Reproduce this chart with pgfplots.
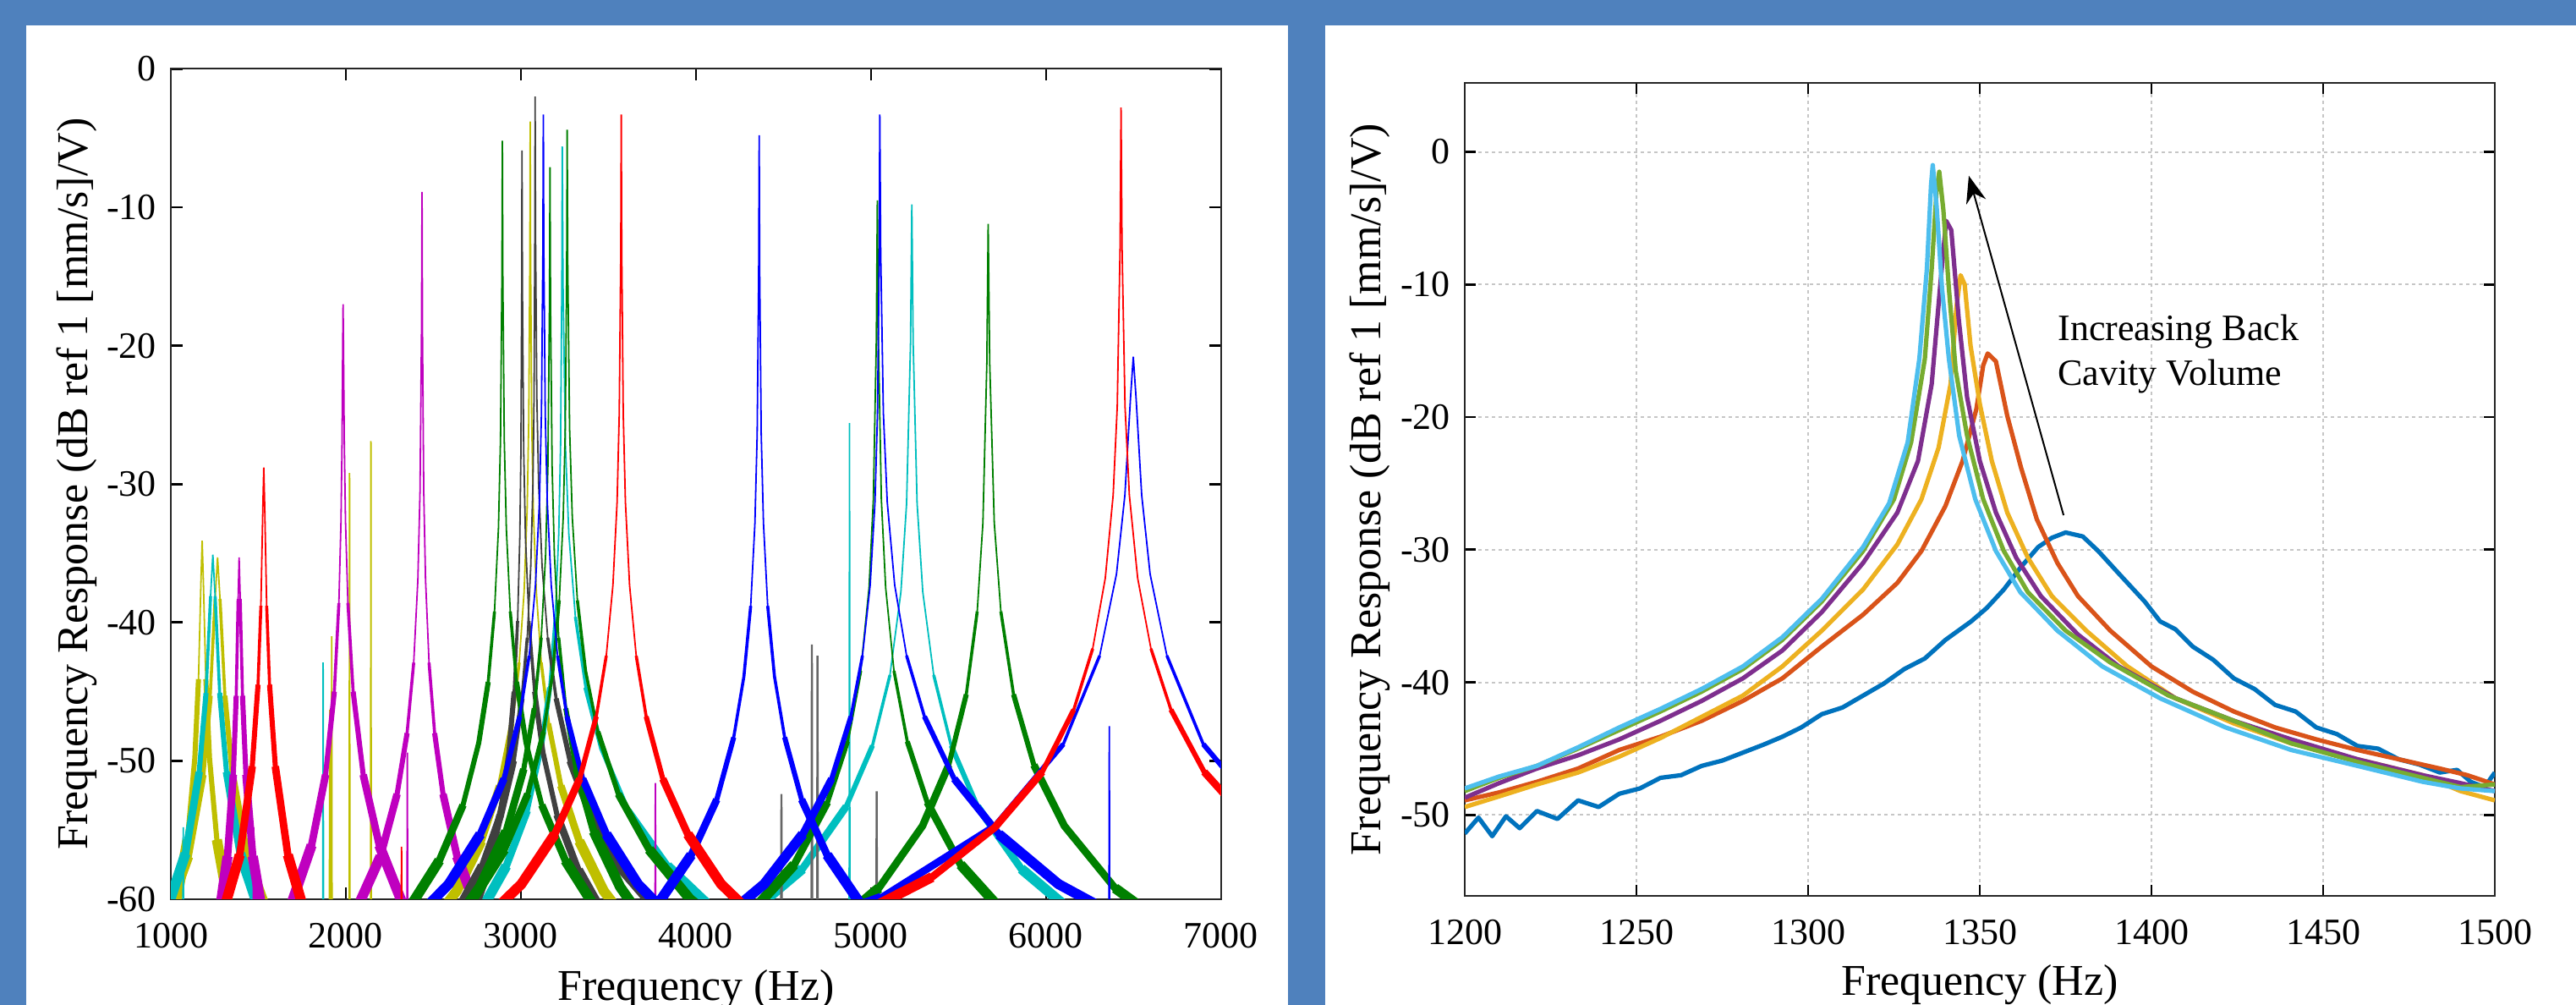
\documentclass[border=0pt]{standalone}
\usepackage{fontspec}
\setmainfont{Liberation Serif}
\usepackage{pgfplots}
\pgfplotsset{compat=1.18}
\usetikzlibrary{calc,arrows.meta}
\definecolor{bg}{HTML}{4F81BD}
\definecolor{cB}{rgb}{0,0,1}
\definecolor{cG}{rgb}{0,0.5,0}
\definecolor{cR}{rgb}{1,0,0}
\definecolor{cC}{rgb}{0,0.75,0.75}
\definecolor{cM}{rgb}{0.75,0,0.75}
\definecolor{cY}{rgb}{0.75,0.75,0}
\definecolor{cK}{rgb}{0.25,0.25,0.25}
\definecolor{mblue}{HTML}{0072BD}
\definecolor{morange}{HTML}{D95319}
\definecolor{myellow}{HTML}{EDB120}
\definecolor{mpurple}{HTML}{7E2F8E}
\definecolor{mgreen}{HTML}{77AC30}
\definecolor{mcyan}{HTML}{4DBEEE}
\newcommand{\tickfont}{\fontsize{11}{13}\selectfont}
\newcommand{\labfont}{\fontsize{13}{15}\selectfont}
\newcommand{\peak}[2]{%
  \addplot[#1, line width=0.45pt] coordinates {#2};%
  \addplot[#1, line width=0.9pt, restrict y to domain=-100:-38] coordinates {#2};%
  \addplot[#1, line width=1.5pt, restrict y to domain=-100:-44] coordinates {#2};%
  \addplot[#1, line width=2.2pt, restrict y to domain=-100:-50] coordinates {#2};%
  \addplot[#1, line width=3.0pt, restrict y to domain=-100:-55] coordinates {#2};}
\pgfplotsset{common/.style={scale only axis, anchor=south west, tick align=inside,
  axis line style={line width=0.5pt, black!85},
  every tick/.style={line width=0.7pt, black},
  ticklabel style={font=\tickfont},
  /pgf/number format/assume math mode=true, /pgf/number format/1000 sep={},
  unbounded coords=jump,
  xticklabel style={yshift=-3.5pt}, yticklabel style={xshift=-0.75pt}}}
\begin{document}
\begin{tikzpicture}
\fill[bg] (0pt,0pt) rectangle (761.5pt,297pt);
\fill[white] (7.75pt,0pt) rectangle (380.75pt,289.5pt);
\fill[white] (391.75pt,0pt) rectangle (761.5pt,289.5pt);
% ---------------- left axis ----------------
\begin{axis}[common, name=L, at={(50.5pt,31.25pt)}, width=310.5pt, height=245.4pt,
  xmin=1000, xmax=7000, ymin=-60, ymax=0,
  xtick={1000,2000,...,7000}, ytick={-60,-50,...,0}, major tick length=3.5pt]
% olive
\peak{cY}{(1004,-62.1) (1095,-55.7) (1137,-49.8) (1158,-44.1) (1172,-37.1) (1179,-34.1) (1186,-37.1) (1200,-44.1) (1221,-49.8) (1263,-55.7) (1354,-62.1)}
\peak{cY}{(917,-63.3) (1099,-56.9) (1183,-51.0) (1225,-45.3) (1253,-38.3) (1267,-35.3) (1281,-38.3) (1309,-45.3) (1351,-51.0) (1435,-56.9) (1617,-63.3)}
\peak{cY}{(2423,-62.9) (2633,-59.4) (2773,-55.8) (2878,-51.8) (2948,-47.3) (2990,-42.9) (3018,-37.8) (3035.5,-31.8) (3044.6,-25.4) (3050.9,-13.8) (3053,-3.8) (3055.1,-13.8) (3061.4,-25.4) (3070.5,-31.8) (3088,-37.8) (3116,-42.9) (3158,-47.3) (3228,-51.8) (3333,-55.8) (3473,-59.4) (3683,-62.9)}
\addplot[cY, line width=0.45pt] coordinates {(1906,-61) (1908,-46.3) (1910,-61) (1910,nan) (1917,-61) (1919,-41.0) (1921,-61) (1921,nan) (2019,-61) (2021,-29.2) (2023,-61) (2023,nan) (2141,-61) (2143,-26.9) (2145,-61)};
% cyan
\peak{cC}{(915,-63.1) (1084,-56.7) (1162,-50.8) (1201,-45.1) (1227,-38.1) (1240,-35.1) (1253,-38.1) (1279,-45.1) (1318,-50.8) (1396,-56.7) (1565,-63.1)}
\peak{cC}{(2756,-61.2) (2916,-57.6) (3036,-53.6) (3116,-49.1) (3164,-44.7) (3196,-39.6) (3216,-33.6) (3226.4,-27.2) (3233.6,-15.6) (3236,-5.6) (3240.5,-15.6) (3254,-27.2) (3273.5,-33.6) (3311,-39.6) (3371,-44.7) (3461,-49.1) (3611,-53.6) (3836,-57.6) (4136,-61.2)}
\peak{cC}{(4233,-61.8) (4608,-57.8) (4858,-53.3) (5008,-48.9) (5108,-43.8) (5170.5,-37.8) (5203,-31.4) (5225.5,-19.8) (5233,-9.8) (5240.5,-19.8) (5263,-31.4) (5295.5,-37.8) (5358,-43.8) (5458,-48.9) (5608,-53.3) (5858,-57.8) (6233,-61.8)}
\addplot[cC, line width=0.45pt] coordinates {(1069,-61) (1071,-54.8) (1073,-61) (1073,nan) (1868,-61) (1870,-42.9) (1872,-61) (1872,nan) (4875,-61) (4877,-25.6) (4879,-61)};
% magenta
\peak{cM}{(1252.5,-63.3) (1324,-56.9) (1357,-51.0) (1373.5,-45.3) (1384.5,-38.3) (1390,-35.3) (1396.5,-38.3) (1409.5,-45.3) (1429,-51.0) (1468,-56.9) (1552.5,-63.3)}
\peak{cM}{(1684,-60.5) (1804,-56.1) (1884,-51.0) (1934,-45.0) (1960,-38.6) (1972,-32.7) (1978,-27.0) (1982,-20.0) (1984,-17.0) (1986.3,-20.0) (1990.9,-27.0) (1997.8,-32.7) (2011.6,-38.6) (2041.5,-45.0) (2099,-51.0) (2191,-56.1) (2329,-60.5)}
\peak{cM}{(2055,-60.9) (2197.5,-56.9) (2292.5,-52.4) (2349.5,-48.0) (2387.5,-42.9) (2411.2,-36.9) (2423.6,-30.5) (2432.1,-18.9) (2435,-8.9) (2437.4,-18.9) (2444.6,-30.5) (2455,-36.9) (2475,-42.9) (2507,-48.0) (2555,-52.4) (2635,-56.9) (2755,-60.9)}
\addplot[cM, line width=0.45pt] coordinates {(1471,-61) (1473,-54.8) (1475,-61) (1475,nan) (2349,-61) (2351,-49.4) (2353,-61) (2353,nan) (3766,-61) (3768,-51.6) (3770,-61)};
% dark gray
\peak{cK}{(2706,-61.5) (2806,-57.9) (2881,-53.9) (2931,-49.4) (2961,-45.0) (2981,-39.9) (2993.5,-33.9) (3000,-27.5) (3004.5,-15.9) (3006,-5.9) (3008.4,-15.9) (3015.6,-27.5) (3026,-33.9) (3046,-39.9) (3078,-45.0) (3126,-49.4) (3206,-53.9) (3326,-57.9) (3486,-61.5)}
\peak{cK}{(2631,-61.1) (2781,-57.6) (2881,-54.0) (2956,-50.0) (3006,-45.5) (3036,-41.1) (3056,-36.0) (3068.5,-30.0) (3075,-23.6) (3079.5,-12.0) (3081,-2.0) (3083.4,-12.0) (3090.6,-23.6) (3101,-30.0) (3121,-36.0) (3153,-41.1) (3201,-45.5) (3281,-50.0) (3401,-54.0) (3561,-57.6) (3801,-61.1)}
\addplot[cK!80, line width=0.6pt] coordinates {(4486,-61) (4488,-52.4) (4490,-61) (4490,nan) (4660,-61) (4662,-41.6) (4664,-61) (4664,nan) (4692,-61) (4694,-42.4) (4696,-61) (4696,nan) (5030,-61) (5032,-52.2) (5034,-61)};
% green
\peak{cG}{(2354,-60.8) (2534,-57.2) (2669,-53.2) (2759,-48.7) (2813,-44.3) (2849,-39.2) (2871.5,-33.2) (2883.2,-26.8) (2891.3,-15.2) (2894,-5.2) (2896.7,-15.2) (2904.8,-26.8) (2916.5,-33.2) (2939,-39.2) (2975,-44.3) (3029,-48.7) (3119,-53.2) (3254,-57.2) (3434,-60.8)}
\peak{cG}{(2566,-62.7) (2766,-59.1) (2916,-55.1) (3016,-50.6) (3076,-46.2) (3116,-41.1) (3141,-35.1) (3154,-28.7) (3163,-17.1) (3166,-7.1) (3169,-17.1) (3178,-28.7) (3191,-35.1) (3216,-41.1) (3256,-46.2) (3316,-50.6) (3416,-55.1) (3566,-59.1) (3766,-62.7)}
\peak{cG}{(2454,-63.5) (2724,-60.0) (2904,-56.4) (3039,-52.4) (3129,-47.9) (3183,-43.5) (3219,-38.4) (3241.5,-32.4) (3253.2,-26.0) (3261.3,-14.4) (3264,-4.4) (3267.5,-14.4) (3278,-26.0) (3293.3,-32.4) (3322.5,-38.4) (3369.3,-43.5) (3439.5,-47.9) (3556.5,-52.4) (3732,-56.4) (3966,-60.0) (4317,-63.5)}
\peak{cG}{(4276,-61.5) (4561,-57.5) (4751,-53.0) (4865,-48.6) (4941,-43.5) (4988.5,-37.5) (5013.2,-31.1) (5030.3,-19.5) (5036,-9.5) (5041.7,-19.5) (5058.8,-31.1) (5083.5,-37.5) (5131,-43.5) (5207,-48.6) (5321,-53.0) (5511,-57.5) (5796,-61.5)}
\peak{cG}{(4669,-63.2) (5044,-59.2) (5294,-54.7) (5444,-50.3) (5544,-45.2) (5606.5,-39.2) (5639,-32.8) (5661.5,-21.2) (5669,-11.2) (5677.7,-21.2) (5703.8,-32.8) (5741.5,-39.2) (5814,-45.2) (5930,-50.3) (6104,-54.7) (6394,-59.2) (6829,-63.2)}
% blue
\peak{cB}{(2318,-62.4) (2588,-58.9) (2768,-55.3) (2903,-51.3) (2993,-46.8) (3047,-42.4) (3083,-37.3) (3105.5,-31.3) (3117.2,-24.9) (3125.3,-13.3) (3128,-3.3) (3130.7,-13.3) (3138.8,-24.9) (3150.5,-31.3) (3173,-37.3) (3209,-42.4) (3263,-46.8) (3353,-51.3) (3488,-55.3) (3668,-58.9) (3938,-62.4)}
\peak{cB}{(3779,-60.4) (3973,-56.8) (4118.5,-52.8) (4215.5,-48.3) (4273.7,-43.9) (4312.5,-38.8) (4336.7,-32.8) (4349.4,-26.4) (4358.1,-14.8) (4361,-4.8) (4363.9,-14.8) (4372.6,-26.4) (4385.3,-32.8) (4409.5,-38.8) (4448.3,-43.9) (4506.5,-48.3) (4603.5,-52.8) (4749,-56.8) (4943,-60.4)}
\peak{cB}{(4060,-62.4) (4390,-58.9) (4610,-55.3) (4775,-51.3) (4885,-46.8) (4951,-42.4) (4995,-37.3) (5022.5,-31.3) (5036.8,-24.9) (5046.7,-13.3) (5050,-3.3) (5055.1,-13.3) (5070.4,-24.9) (5092.5,-31.3) (5135,-37.3) (5203,-42.4) (5305,-46.8) (5475,-51.3) (5730,-55.3) (6070,-58.9) (6580,-62.4)}
\peak{cB}{(4098,-64.3) (5058,-59.9) (5698,-54.8) (6098,-48.8) (6306,-42.4) (6402,-36.5) (6450,-30.8) (6482,-23.8) (6498,-20.8) (6514,-23.8) (6546,-30.8) (6594,-36.5) (6690,-42.4) (6898,-48.8) (7298,-54.8)}
\addplot[cB, line width=0.45pt] coordinates {(6359,-61) (6361,-47.5) (6363,-61)};
% red
\peak{cR}{(1256,-62.8) (1393.5,-56.8) (1465,-50.4) (1498,-44.5) (1514.5,-38.8) (1525.5,-31.8) (1531,-28.8) (1536.5,-31.8) (1547.5,-38.8) (1564,-44.5) (1597,-50.4) (1668.5,-56.8) (1806,-62.8)}
\peak{cR}{(2718,-62.4) (3003,-58.9) (3193,-55.3) (3335.5,-51.3) (3430.5,-46.8) (3487.5,-42.4) (3525.5,-37.3) (3549.3,-31.3) (3561.6,-24.9) (3570.2,-13.3) (3573,-3.3) (3575.9,-13.3) (3584.4,-24.9) (3596.8,-31.3) (3620.5,-37.3) (3658.5,-42.4) (3715.5,-46.8) (3810.5,-51.3) (3953,-55.3) (4143,-58.9) (4428,-62.4)}
\peak{cR}{(4808,-61.9) (5348,-58.4) (5708,-54.8) (5978,-50.8) (6158,-46.3) (6266,-41.9) (6338,-36.8) (6383,-30.8) (6406.4,-24.4) (6422.6,-12.8) (6428,-2.8) (6433.7,-12.8) (6450.8,-24.4) (6475.5,-30.8) (6523,-36.8) (6599,-41.9) (6713,-46.3) (6903,-50.8) (7188,-54.8)}
\addplot[cR, line width=0.45pt] coordinates {(2316,-61) (2318,-56.2) (2320,-61)};
\end{axis}
% ---------------- right axis ----------------
\begin{axis}[common, name=R, at={(433pt,32.25pt)}, width=304.5pt, height=240.25pt,
  xmin=1200, xmax=1500, ymin=-56.1, ymax=5.2,
  xtick={1200,1250,...,1500}, ytick={-50,-40,...,0}, major tick length=3.25pt,
  grid=major, grid style={line width=0.5pt, gray!45, dash pattern=on 1pt off 1pt},
  every axis plot/.append style={line width=1.3pt, line join=round}]
\addplot[mblue] coordinates {(1200,-51.4) (1204,-50.2) (1208,-51.6) (1212,-50.1) (1216,-51.0) (1221,-49.7) (1227,-50.3) (1233,-48.9) (1239,-49.4) (1245,-48.4) (1251,-48.0) (1257,-47.2) (1263,-47.0) (1269,-46.3) (1275,-45.9) (1281,-45.3) (1287,-44.7) (1292.5,-44.1) (1298,-43.4) (1304,-42.4) (1310,-41.9) (1316,-41.0) (1322,-40.1) (1328,-39.0) (1334,-38.2) (1340,-36.8) (1347.5,-35.4) (1352,-34.4) (1357,-33.0) (1362,-31.3) (1367,-29.8) (1371,-29.1) (1375,-28.7) (1380,-29.0) (1384.5,-30.1) (1390.5,-31.8) (1398,-33.9) (1402.5,-35.4) (1407,-36.0) (1412,-37.3) (1418,-38.3) (1424,-39.7) (1430,-40.5) (1436,-41.7) (1442,-42.2) (1448,-43.4) (1454,-43.9) (1460,-44.8) (1466,-45.0) (1472,-45.8) (1478,-46.2) (1484,-46.8) (1489,-46.6) (1493,-47.5) (1497,-47.9) (1500,-46.8)};
\addplot[morange] coordinates {(1200,-48.9) (1210,-48.3) (1221,-47.5) (1233,-46.5) (1245,-45.1) (1257,-44.1) (1269,-42.9) (1281,-41.4) (1292.5,-39.7) (1304,-37.3) (1316,-34.9) (1326,-32.5) (1333,-30.1) (1340,-26.7) (1345,-23.3) (1349,-19.4) (1351,-16.1) (1352.3,-15.2) (1354.7,-15.8) (1358,-19.9) (1362,-23.8) (1366.6,-27.7) (1372.6,-31.0) (1378.6,-33.5) (1388,-36.1) (1400,-38.8) (1412,-40.7) (1424,-42.2) (1436,-43.4) (1448,-44.3) (1460,-45.1) (1472,-45.8) (1484,-46.5) (1492,-47.0) (1500,-47.7)};
\addplot[myellow] coordinates {(1200,-49.4) (1210,-48.6) (1221,-47.7) (1233,-46.8) (1245,-45.6) (1257,-44.2) (1269,-42.6) (1281,-41.0) (1292.5,-38.8) (1304,-36.1) (1316,-33.0) (1326,-29.6) (1333,-26.2) (1338,-22.3) (1341.5,-17.5) (1343.2,-11.7) (1344.4,-9.3) (1345.6,-10.0) (1347.3,-14.6) (1350,-19.0) (1353.5,-23.3) (1358,-27.2) (1364,-30.6) (1371,-33.5) (1381,-36.1) (1393,-38.8) (1407,-41.2) (1424,-43.1) (1440.7,-44.6) (1460,-45.8) (1479,-47.0) (1490,-48.2) (1500,-48.9)};
\addplot[mpurple] coordinates {(1200,-48.7) (1210,-47.6) (1221,-46.5) (1233,-45.5) (1245,-44.3) (1257,-42.9) (1269,-41.4) (1281,-39.7) (1292.5,-37.6) (1304,-34.7) (1316,-31.0) (1326,-27.2) (1332,-23.3) (1336,-17.5) (1338.4,-10.3) (1340.2,-5.2) (1341.7,-5.9) (1343.9,-12.7) (1346.3,-18.5) (1350,-23.3) (1354.7,-27.2) (1360.6,-30.6) (1367.8,-33.5) (1378.6,-36.4) (1390.5,-38.8) (1407,-41.2) (1424,-42.9) (1440.7,-44.3) (1460,-45.8) (1479,-47.0) (1490,-47.6) (1500,-48.2)};
\addplot[mgreen] coordinates {(1200,-48.2) (1210,-47.2) (1221,-46.3) (1233,-45.0) (1245,-43.6) (1257,-42.2) (1269,-40.7) (1281,-39.0) (1292.5,-36.8) (1304,-33.9) (1316,-30.1) (1325,-26.2) (1330,-21.9) (1334,-15.6) (1336,-8.8) (1337.4,-3.0) (1338.2,-1.5) (1339.4,-4.4) (1341,-10.3) (1343,-16.5) (1346.3,-21.4) (1351,-26.2) (1357,-30.1) (1364,-33.2) (1375,-36.1) (1388,-38.5) (1405,-41.0) (1424,-42.9) (1440.7,-44.6) (1460,-46.0) (1479,-47.2) (1490,-47.9) (1500,-47.7)};
\addplot[mcyan] coordinates {(1200,-48.0) (1210,-47.1) (1221,-46.3) (1233,-44.9) (1245,-43.4) (1257,-42.0) (1269,-40.5) (1281,-38.8) (1292.5,-36.6) (1304,-33.7) (1316,-29.8) (1323.6,-26.5) (1329,-21.9) (1332.4,-15.6) (1334.6,-8.8) (1335.8,-2.5) (1336.3,-1.0) (1337.4,-4.0) (1339,-10.3) (1341,-15.6) (1344,-21.4) (1348.7,-26.2) (1354.7,-30.1) (1361.8,-33.2) (1372.6,-36.1) (1385.7,-38.8) (1402.5,-41.2) (1421.6,-43.4) (1440.7,-45.1) (1460,-46.3) (1479,-47.5) (1490,-48.0) (1500,-48.2)};
\draw[line width=0.5pt, black, -{Stealth[length=8pt,width=6pt]}] (axis cs:1374.4,-27.4) -- (axis cs:1346.8,-1.8);
\node[anchor=base west, inner sep=0pt, font=\tickfont] at (axis cs:1372.6,-14.2) {Increasing Back};
\node[anchor=base west, inner sep=0pt, font=\tickfont] at (axis cs:1372.6,-17.6) {Cavity Volume};
\end{axis}
% ---------------- labels ----------------
\node[font=\labfont] at ($(L.south)+(0pt,-26.75pt)$) {Frequency (Hz)};
\node[font=\labfont, rotate=90] at ($(L.west)+(-27.75pt,0pt)$) {Frequency Response (dB ref 1 [mm/s]/V)};
\node[font=\labfont] at ($(R.south)+(0pt,-26.25pt)$) {Frequency (Hz)};
\node[font=\labfont, rotate=90] at ($(R.west)+(-28pt,0pt)$) {Frequency Response (dB ref 1 [mm/s]/V)};
\pgfresetboundingbox
\useasboundingbox (0pt,0pt) rectangle (761.5pt,297pt);
\end{tikzpicture}
\end{document}
